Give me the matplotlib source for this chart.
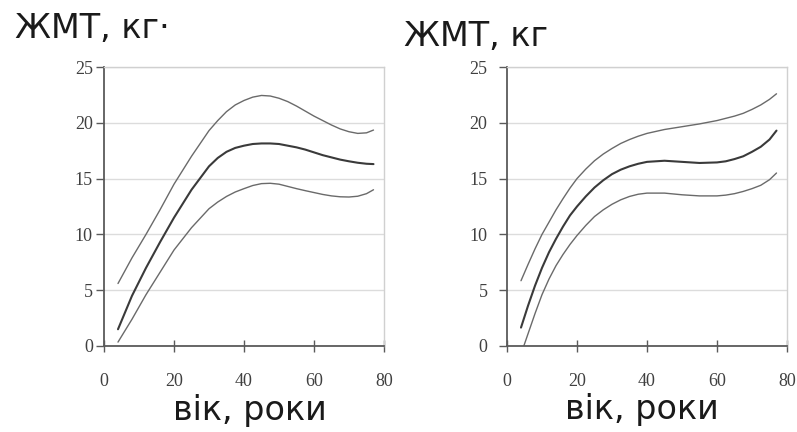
import matplotlib
matplotlib.use("Agg")
import matplotlib.pyplot as plt

# Body-fat mass (kg) percentile curves by age (years), men (left) and women (right)
men_age = [4, 8, 12, 16, 20, 25, 30, 32.5, 35, 37.5, 40, 42.5, 45, 47.5, 50, 52.5, 55,
           57.5, 60, 62.5, 65, 67.5, 70, 72.5, 75, 77]
men_upper = [5.6, 7.9, 10.0, 12.2, 14.5, 17.0, 19.3, 20.2, 21.0, 21.6, 22.0, 22.3, 22.45,
             22.4, 22.2, 21.9, 21.5, 21.05, 20.6, 20.2, 19.8, 19.45, 19.2, 19.05, 19.1, 19.35]
men_median = [1.5, 4.5, 7.0, 9.3, 11.5, 14.0, 16.1, 16.85, 17.4, 17.75, 17.95, 18.1, 18.15,
              18.15, 18.1, 17.95, 17.8, 17.6, 17.35, 17.1, 16.9, 16.7, 16.55, 16.42, 16.33, 16.3]
men_lower = [0.35, 2.4, 4.6, 6.6, 8.6, 10.6, 12.3, 12.9, 13.4, 13.8, 14.1, 14.38, 14.55,
             14.58, 14.5, 14.3, 14.1, 13.92, 13.75, 13.58, 13.45, 13.37, 13.35, 13.42, 13.65, 14.0]

women_age = [4, 6, 8, 10, 12, 14, 16, 18, 20, 22.5, 25, 27.5, 30, 32.5, 35, 37.5, 40, 45,
             50, 55, 60, 62.5, 65, 67.5, 70, 72.5, 75, 77]
women_upper = [5.85, 7.3, 8.7, 10.0, 11.1, 12.2, 13.2, 14.15, 15.0, 15.85, 16.6, 17.2, 17.7,
               18.15, 18.5, 18.8, 19.05, 19.4, 19.65, 19.9, 20.2, 20.4, 20.6, 20.85, 21.2,
               21.6, 22.1, 22.6]
women_median = [1.65, 3.6, 5.4, 7.0, 8.4, 9.6, 10.7, 11.7, 12.5, 13.4, 14.2, 14.85, 15.4,
                15.8, 16.1, 16.33, 16.5, 16.6, 16.5, 16.4, 16.45, 16.55, 16.75, 17.0, 17.4,
                17.85, 18.5, 19.3]
women_lower = [None, None, 2.9, 4.6, 6.0, 7.2, 8.2, 9.1, 9.9, 10.8, 11.6, 12.2, 12.7,
               13.1, 13.4, 13.6, 13.7, 13.7, 13.55, 13.45, 13.45, 13.52, 13.65, 13.85, 14.1,
               14.4, 14.9, 15.5]
women_lower_start = [4.8, 0.0]

x_ticks = [0, 20, 40, 60, 80]
y_ticks = [0, 5, 10, 15, 20, 25]
title_text = ["ЖМТ, кг·", "ЖМТ, кг"]
xlabel_text = "вік, роки"

W, H = 797, 432
fig = plt.figure(figsize=(W / 100, H / 100), dpi=100)
fig.patch.set_facecolor("white")


def px_rect(left, top, right, bottom):
    return [left / W, 1 - bottom / H, (right - left) / W, (bottom - top) / H]


ax1 = fig.add_axes(px_rect(104, 67, 384, 346))
ax2 = fig.add_axes(px_rect(507, 67, 787, 346))

serif = "Liberation Serif"
sans = "DejaVu Sans"

for ax, ypad in ((ax1, 2), (ax2, 8)):
    ax.set_xlim(0, 80)
    ax.set_ylim(0, 25)
    ax.set_yticks(y_ticks)
    ax.set_xticks(x_ticks)
    ax.yaxis.grid(True, color="#dcdcdc", lw=1.0)
    ax.set_axisbelow(True)
    for s in ("top", "right"):
        ax.spines[s].set_color("#d0d0d0")
        ax.spines[s].set_linewidth(1.0)
    for s in ("left", "bottom"):
        ax.spines[s].set_color("#5a5a5a")
        ax.spines[s].set_linewidth(1.3)
    ax.tick_params(axis="y", direction="out", length=6, width=1.0, color="#5a5a5a",
                   pad=ypad, labelsize=13, labelcolor="#404040", labelfontfamily=serif)
    ax.tick_params(axis="x", direction="inout", length=9, width=1.0, color="#5a5a5a",
                   pad=15, labelsize=13, labelcolor="#404040", labelfontfamily=serif)

thin = dict(color="#6a6a6a", lw=1.0, solid_capstyle="round", solid_joinstyle="round")
thick = dict(color="#3a3a3a", lw=1.5, solid_capstyle="round", solid_joinstyle="round")

ax1.plot(men_age, men_upper, **thin)
ax1.plot(men_age, men_lower, **thin)
ax1.plot(men_age, men_median, **thick)

ax2.plot(women_age, women_upper, **thin)
lower_x = [women_lower_start[0]] + [a for a, v in zip(women_age, women_lower) if v is not None]
lower_y = [women_lower_start[1]] + [v for v in women_lower if v is not None]
ax2.plot(lower_x, lower_y, **thin)
ax2.plot(women_age, women_median, **thick)

fig.text(15 / W, 1 - 38 / H, title_text[0], fontsize=24, family=sans,
         color="#1a1a1a", va="baseline", ha="left")
fig.text(404 / W, 1 - 46 / H, title_text[1], fontsize=24, family=sans,
         color="#1a1a1a", va="baseline", ha="left")
fig.text(250 / W, 1 - 420 / H, xlabel_text, fontsize=24, family=sans,
         color="#1a1a1a", va="baseline", ha="center")
fig.text(642 / W, 1 - 419 / H, xlabel_text, fontsize=24, family=sans,
         color="#1a1a1a", va="baseline", ha="center")

fig.savefig("out.png", dpi=100, facecolor="white")
